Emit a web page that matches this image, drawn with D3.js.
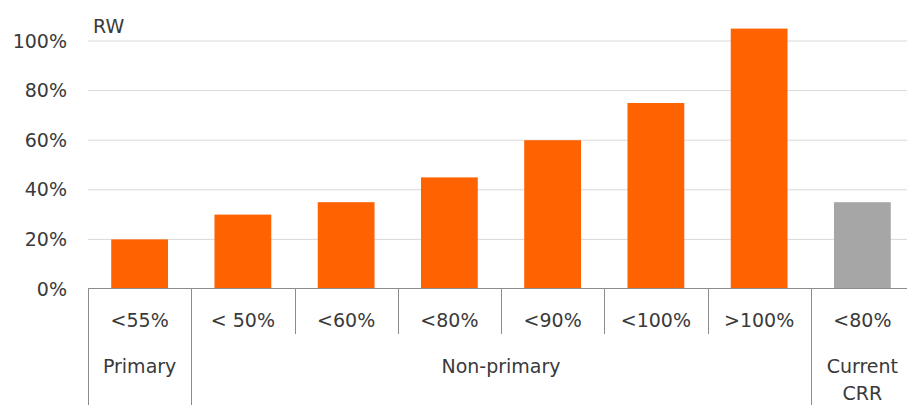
<!DOCTYPE html>
<html>
<head>
<meta charset="utf-8">
<script src="https://cdn.jsdelivr.net/npm/d3@7/dist/d3.min.js"></script>
<style>
  html, body { margin: 0; padding: 0; background: #fff; }
  svg { display: block; }
  text { font-family: "DejaVu Sans", sans-serif; fill: #3a3a3a; }
</style>
</head>
<body>
<svg id="chart" width="907" height="405"></svg>
<script>
// Risk weights by LTV bucket
const categories = ["<55%", "< 50%", "<60%", "<80%", "<90%", "<100%", ">100%", "<80% "];
const values = [20, 30, 35, 45, 60, 75, 105, 35];
const groupOf = ["Primary", "Non-primary", "Non-primary", "Non-primary", "Non-primary", "Non-primary", "Non-primary", "Current CRR"];
const groupLabels = [["Primary"], ["Non-primary"], ["Current", "CRR"]];
const groupNames = ["Primary", "Non-primary", "Current CRR"];
const yTicks = [0, 20, 40, 60, 80, 100];
const yLabel = "RW";

const colors = { "Primary": "#FF6200", "Non-primary": "#FF6200", "Current CRR": "#A6A6A6" };

const svg = d3.select("#chart");
const left = 88, right = 914, zeroY = 289, fontSize = 19;

const x = d3.scaleBand()
  .domain(categories)
  .range([left, right])
  .paddingInner(0.45)
  .paddingOuter(0.225);

const y = d3.scaleLinear()
  .domain([0, 110])
  .range([zeroY, zeroY - 2.48 * 110]);

// Horizontal gridlines
svg.append("g")
  .selectAll("line")
  .data(yTicks.filter(d => d > 0))
  .join("line")
  .attr("x1", left).attr("x2", right)
  .attr("y1", d => y(d)).attr("y2", d => y(d))
  .attr("stroke", "#d9d9d9")
  .attr("stroke-width", 1);

// Y axis labels
const yAxis = d3.axisLeft(y)
  .tickValues(yTicks)
  .tickSize(0)
  .tickPadding(21)
  .tickFormat(d => d + "%");
const gy = svg.append("g")
  .attr("transform", `translate(${left},0)`)
  .call(yAxis);
gy.select(".domain").remove();
gy.selectAll("text")
  .attr("font-size", fontSize)
  .attr("font-family", "DejaVu Sans, sans-serif")
  .attr("fill", "#3a3a3a");

svg.append("text")
  .attr("x", 93)
  .attr("y", 33)
  .attr("font-size", fontSize)
  .text(yLabel);

// Bars
svg.append("g")
  .selectAll("rect")
  .data(categories)
  .join("rect")
  .attr("x", d => x(d))
  .attr("width", x.bandwidth())
  .attr("y", (d, i) => y(values[i]))
  .attr("height", (d, i) => y(0) - y(values[i]))
  .attr("fill", (d, i) => colors[groupOf[i]]);

// Category axis: baseline and separators
const step = x.step();
const lineColor = "#8c8c8c";
svg.append("line")
  .attr("x1", left).attr("x2", right)
  .attr("y1", zeroY - 0.5).attr("y2", zeroY - 0.5)
  .attr("stroke", lineColor).attr("stroke-width", 1);

const bounds = d3.range(categories.length + 1);
svg.append("g")
  .selectAll("line")
  .data(bounds)
  .join("line")
  .attr("x1", i => Math.round(left + i * step) + 0.5)
  .attr("x2", i => Math.round(left + i * step) + 0.5)
  .attr("y1", zeroY)
  .attr("y2", i => {
    const edge = i === 0 || i === categories.length || groupOf[i] !== groupOf[i - 1];
    return edge ? 405 : 334;
  })
  .attr("stroke", lineColor).attr("stroke-width", 1);

// Bucket labels
svg.append("g")
  .selectAll("text")
  .data(categories)
  .join("text")
  .attr("x", d => x(d) + x.bandwidth() / 2)
  .attr("y", 327)
  .attr("text-anchor", "middle")
  .attr("font-size", fontSize)
  .text(d => d.trim());

// Group labels
groupNames.forEach((g, gi) => {
  const idx = groupOf.map((v, i) => v === g ? i : -1).filter(i => i >= 0);
  const x0 = left + idx[0] * step;
  const x1 = left + (idx[idx.length - 1] + 1) * step;
  const t = svg.append("text")
    .attr("x", (x0 + x1) / 2)
    .attr("y", 373)
    .attr("text-anchor", "middle")
    .attr("font-size", fontSize);
  groupLabels[gi].forEach((line, li) => {
    t.append("tspan")
      .attr("x", (x0 + x1) / 2)
      .attr("dy", li === 0 ? 0 : 27)
      .text(line);
  });
});
</script>
</body>
</html>
